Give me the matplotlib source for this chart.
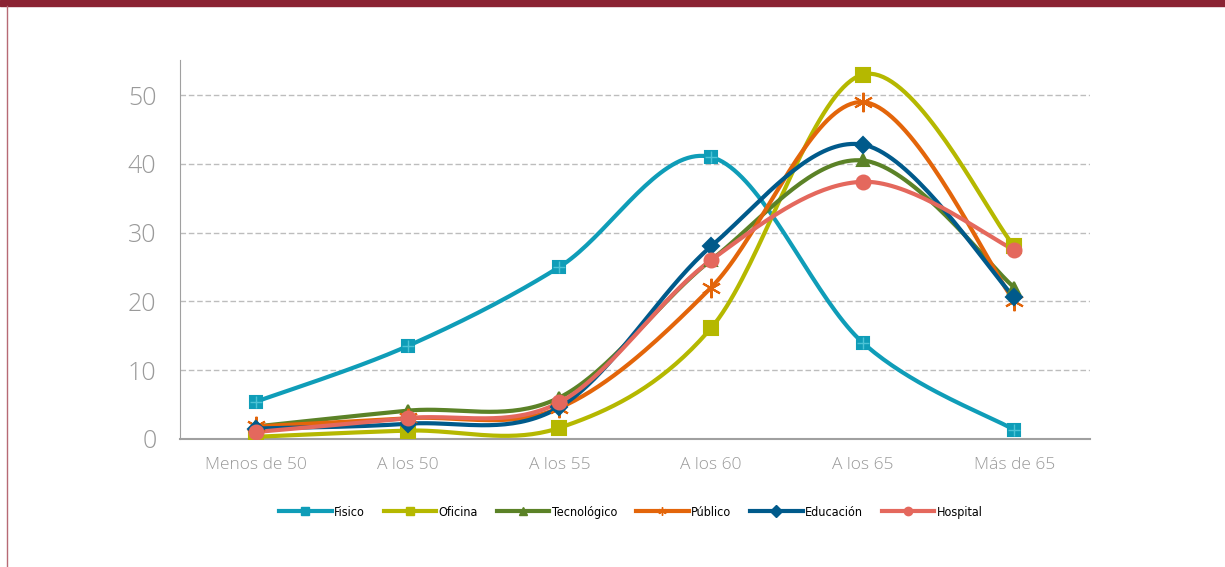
import numpy as np
import matplotlib
matplotlib.use("Agg")
import matplotlib.pyplot as plt
from matplotlib.lines import Line2D
from matplotlib.patches import Rectangle

categorias = ["Menos de 50", "A los 50", "A los 55", "A los 60", "A los 65", "Más de 65"]
fisico = [5.4, 13.5, 25.0, 41.0, 14.0, 1.3]
oficina = [0.3, 1.2, 1.6, 16.1, 53.0, 28.0]
tecnologico = [1.8, 4.1, 6.0, 26.0, 40.5, 22.0]
publico = [1.8, 3.0, 4.5, 22.0, 49.0, 20.0]
educacion = [1.5, 2.2, 4.6, 28.0, 42.8, 20.6]
hospital = [1.0, 3.0, 5.3, 26.0, 37.4, 27.5]

series = [
    ("Fisico", fisico, "#0f9db8", "s", 9),
    ("Oficina", oficina, "#b5b800", "s", 10),
    ("Tecnológico", tecnologico, "#5b8227", "^", 9),
    ("Público", publico, "#e3650a", (6, 2, 0), 14),
    ("Educación", educacion, "#005a8b", "D", 8),
    ("Hospital", hospital, "#e4685d", "o", 10),
]


def suavizar(x, y, n=40):
    # curva tipo Excel: bezier con puntos de control a 1/6
    x = np.asarray(x, float)
    y = np.asarray(y, float)
    px = np.concatenate([[x[0]], x, [x[-1]]])
    py = np.concatenate([[y[0]], y, [y[-1]]])
    t = np.linspace(0, 1, n)[:, None]
    xs, ys = [], []
    for i in range(len(x) - 1):
        p0 = np.array([px[i + 1], py[i + 1]])
        p3 = np.array([px[i + 2], py[i + 2]])
        c1 = p0 + (p3 - np.array([px[i], py[i]])) / 6
        c2 = p3 - (np.array([px[i + 3], py[i + 3]]) - p0) / 6
        pts = (1 - t) ** 3 * p0 + 3 * (1 - t) ** 2 * t * c1 + 3 * (1 - t) * t ** 2 * c2 + t ** 3 * p3
        xs.extend(pts[:, 0])
        ys.extend(pts[:, 1])
    return np.array(xs), np.array(ys)


fig = plt.figure(figsize=(12.25, 5.67), dpi=100)
fig.patches.append(Rectangle((0, 0.99), 1, 0.01, transform=fig.transFigure, color="#8b2333", zorder=0))
fig.lines.append(Line2D([0.0057, 0.0057], [0, 0.99], transform=fig.transFigure, color="#b76a75", lw=1))

ax = fig.add_axes([0.147, 0.226, 0.743, 0.668])
xpos = np.arange(len(categorias))
handles = []
for nombre, vals, color, marker, ms in series:
    sx, sy = suavizar(xpos, vals)
    ax.plot(sx, sy, color=color, lw=3, solid_capstyle="round", zorder=3)
    ax.plot(xpos, vals, linestyle="none", marker=marker, markersize=ms, color=color,
            markeredgecolor=color, markeredgewidth=1.5, zorder=4)
    if nombre == "Fisico":
        ax.plot(xpos, vals, linestyle="none", marker="+", markersize=8, color="#4cc3d6",
                markeredgewidth=1, zorder=4)
    handles.append(Line2D([], [], color=color, lw=3, marker=marker, markersize=6,
                          markeredgecolor=color, label=nombre))

ax.set_xlim(-0.5, 5.5)
ax.set_ylim(0, 55.1)
ax.set_xticks(xpos)
ax.set_xticklabels(categorias, fontsize=12.5, color="#9a9a9a", fontweight="light",
                   family=["Open Sans", "DejaVu Sans"])
ax.set_yticks([0, 10, 20, 30, 40, 50])
ax.set_yticklabels(["0", "10", "20", "30", "40", "50"], fontsize=18, color="#9a9a9a",
                   fontweight="light", family=["Open Sans", "DejaVu Sans"])
ax.tick_params(axis="x", length=0, pad=13)
ax.tick_params(axis="y", length=0, pad=17)
for y in [10, 20, 30, 40, 50]:
    ax.axhline(y, color="#bdbdbd", lw=1, ls=(0, (4, 2)), zorder=1)
for s in ["top", "right"]:
    ax.spines[s].set_visible(False)
ax.spines["left"].set_color("#a0a0a0")
ax.spines["bottom"].set_color("#a0a0a0")
ax.spines["bottom"].set_linewidth(1.5)

fig.legend(handles=handles, loc="center", bbox_to_anchor=(0.515, 0.097), ncol=6, frameon=False,
           prop={"family": ["DejaVu Sans"], "stretch": "condensed", "size": 9},
           handlelength=4.2, columnspacing=1.5, handletextpad=0.2)

fig.savefig("out.png", dpi=100, facecolor="white")
